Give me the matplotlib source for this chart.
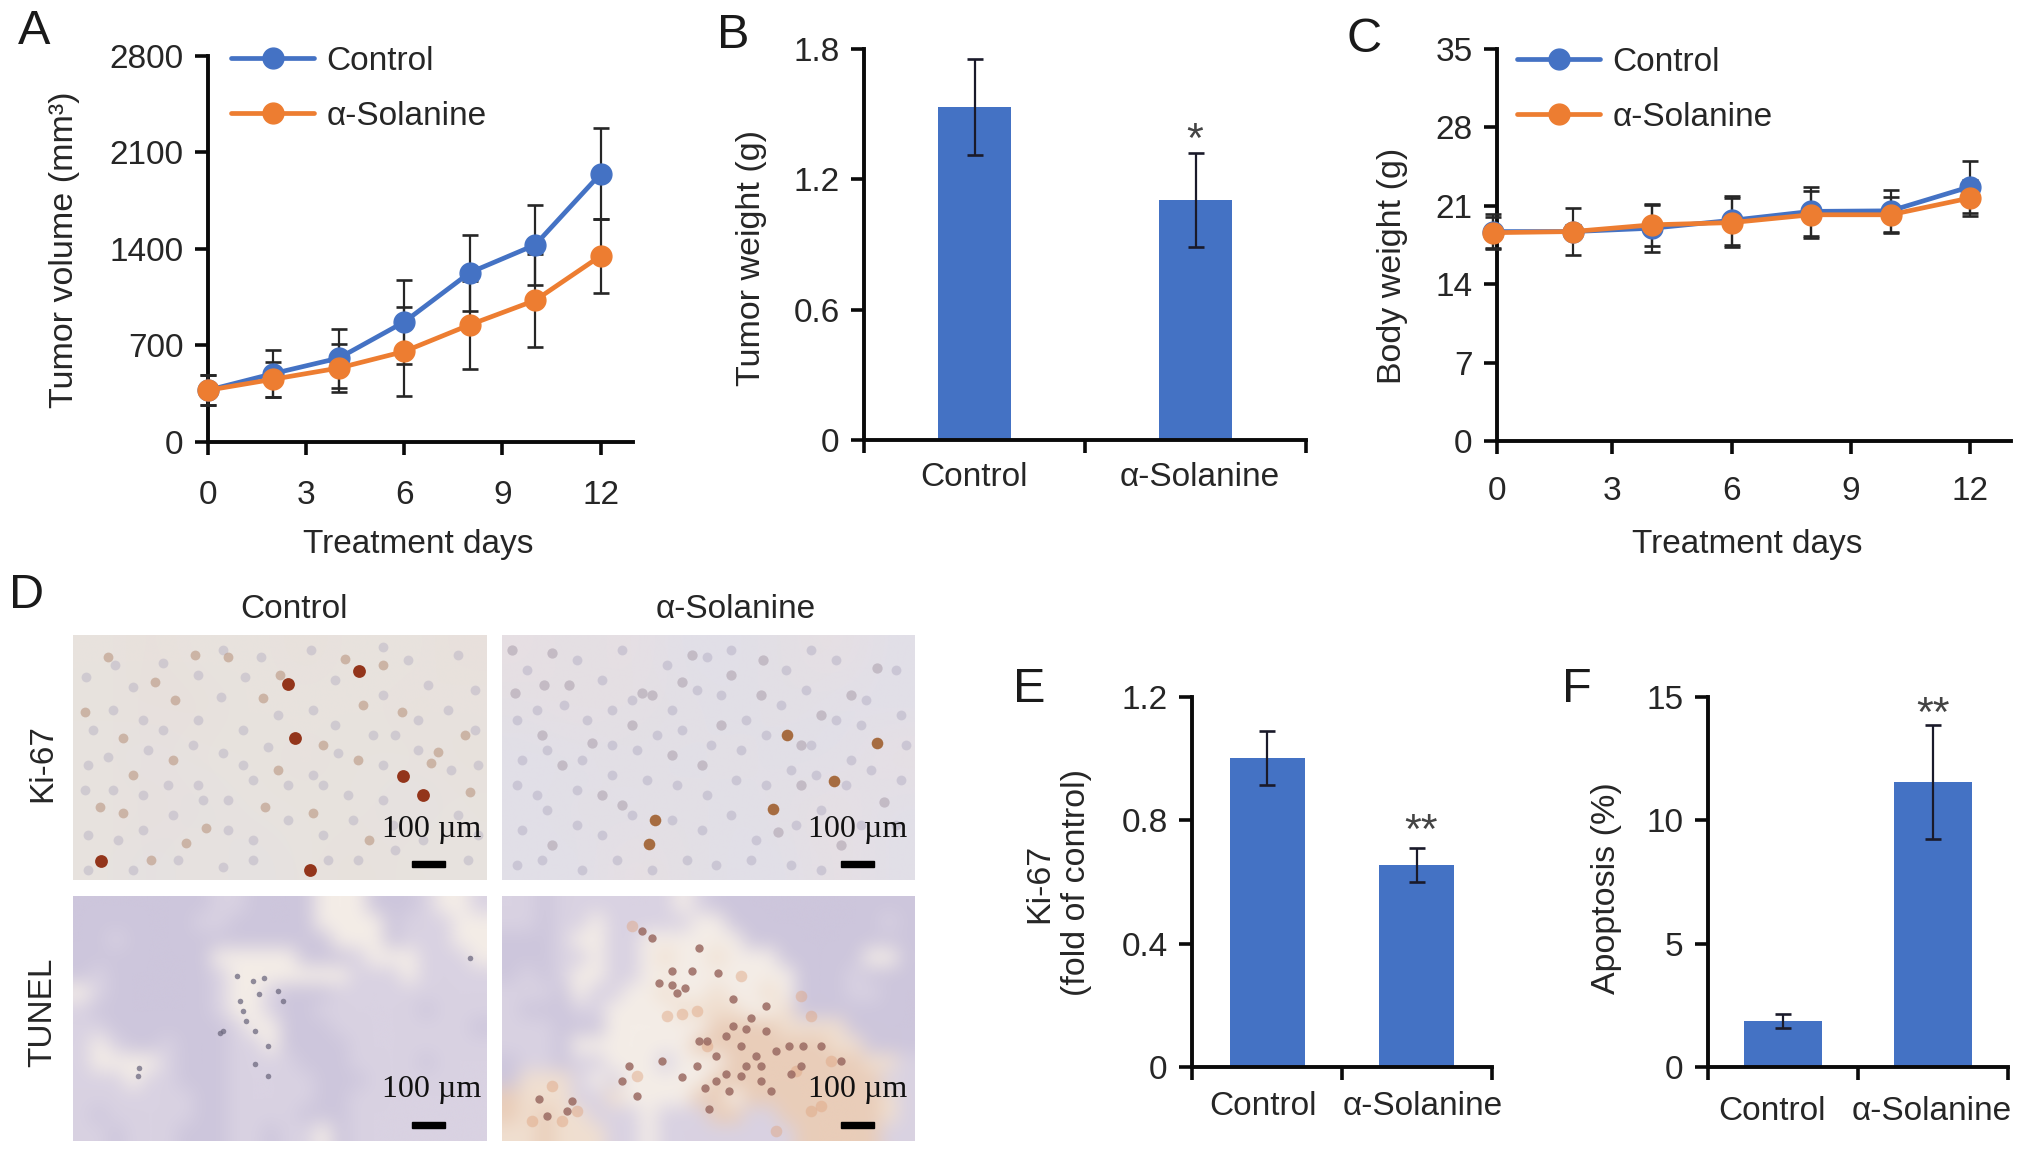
import numpy as np
import matplotlib
matplotlib.use("Agg")
import matplotlib.pyplot as plt
from matplotlib.colors import to_rgb

W, H = 2032, 1165
plt.rcParams['font.family'] = ['Liberation Sans', 'DejaVu Sans']
INK = '#262626'
BLUE, ORANGE, BAR = '#4472c4', '#ed7d31', '#4472c4'
plt.rcParams['text.color'] = INK

# ---------- data ----------
days = [0, 2, 4, 6, 8, 10, 12]
series = ['Control', 'α-Solanine']
tumor_ctrl = [375, 496, 608, 870, 1227, 1428, 1943]
tumor_ctrl_err = [107, 168, 214, 303, 275, 290, 330]
tumor_sol = [375, 455, 536, 656, 849, 1026, 1348]
tumor_sol_err = [107, 126, 174, 325, 320, 335, 270]
tumor_ticks = [0, 700, 1400, 2100, 2800]

weight_vals = [1.533, 1.105]
weight_err = [0.223, 0.215]
weight_ticks = [0, 0.6, 1.2, 1.8]

body_ctrl = [18.7, 18.7, 19.0, 19.7, 20.5, 20.55, 22.7]
body_ctrl_err = [1.6, 2.1, 2.1, 2.2, 2.2, 1.9, 2.3]
body_sol = [18.6, 18.7, 19.3, 19.5, 20.2, 20.2, 21.7]
body_sol_err = [1.4, 0.6, 1.9, 2.2, 2.1, 1.6, 1.6]
body_ticks = [0, 7, 14, 21, 28, 35]
day_ticks = [0, 3, 6, 9, 12]

ki67_vals = [1.002, 0.655]
ki67_err = [0.087, 0.055]
ki67_ticks = [0, 0.4, 0.8, 1.2]

apop_vals = [1.86, 11.54]
apop_err = [0.27, 2.31]
apop_ticks = [0, 5, 10, 15]

# ---------- micrograph sketches: coarse colour maps and the stained nuclei seen ----------
PAL_A = {'a': '#e8e3de', 'b': '#e8e0dc', 'c': '#e4e0e2'}
PAL_B = {'a': '#e3dfe4', 'b': '#e7dfe3', 'c': '#e1dfe8'}
PAL_T = {'p': '#cdc6dc', 'm': '#d9d2e2', 'w': '#f4ede7', 'o': '#f0dfd0', 'r': '#e9cdb9'}
map_ki_ctrl = ["abaabaab", "abbaaaba", "acaabaab", "abcaaaca", "acacabaa"]
map_ki_sol = ["babccabc", "abaacacc", "ccacaccb", "cacacabc", "ccbaccbc"]
map_tu_ctrl = ["ppppppppmmppppwwwpppmwwm", "pppppppmmpppppwwwwpmmmww", "ppmppppppppppppwwwpmmmww",
               "ppppppppwwwwwpppmwwwmmmw", "pmppppppmwwwwwwwmmmwmmmm", "wmppppppmwwmpppmmmmmmmmm",
               "mpppppppmwwmppmmmmmmpmmm", "mmpppppppmwwpppmmmmmmmmp", "mwmppmpppmmwppppmmmmmmmm",
               "mwwwwmpppmmmmpppmmmmpmmm", "mmmwmmpppmmmmmpppmmmmmmm", "mmmmmmmppmmmmmppmmmmmmmm",
               "mpmmmmmppmmmmpppmmmmmmmm", "mmpmmmpppmmpmmwpmmmmmmmm"]
map_tu_sol = ["mmpmmmmmmmwmpppppppppppp", "mmpmmwmmmmmwwpppppppppmp", "pppmwwmmwwwwwwpppppppppp",
              "pppmmwmmwowwowwwpppppwwp", "pmpmwwmmwwwwwwwwwpppmppp", "mmmpwmmwwowwowwowpppmmpp",
              "mpppmmwwwwoooowwoppppppp", "mmmpppwwwwwwrrrroooopppp", "mmmpwwwwwwwrrrrrrrrooppp",
              "pmmpmmwwwmwwwrrrrrrrroom", "pooomwmwwwwwrrrrrrrrrrmm", "rooommowwwwrrwrrrrrrrrom",
              "roroommmwmmmrrmmrrrrrrom", "oorooommwmmmmmmmmrrrrrmm"]

ki_ctrl_dark = [(215, 49), (286, 36), (222, 103), (330, 141), (350, 160), (28, 226), (237, 235)]
ki_ctrl_mid = [(272, 24), (207, 40), (50, 103), (100, 125), (102, 65), (190, 63), (12, 77), (82, 47),
               (290, 70), (329, 77), (358, 128), (397, 157), (285, 125), (192, 172), (113, 208),
               (78, 225), (27, 172), (50, 178), (296, 205), (35, 22), (155, 22), (122, 20), (392, 100),
               (365, 117), (250, 110), (133, 193), (205, 135), (60, 140), (240, 178), (310, 30)]
ki_ctrl_faint = [(13, 42), (42, 30), (60, 52), (90, 28), (125, 40), (150, 15), (172, 42), (188, 22),
                 (238, 15), (262, 45), (310, 12), (335, 25), (355, 50), (385, 20), (402, 55), (20, 95),
                 (40, 75), (70, 85), (90, 95), (125, 85), (148, 62), (170, 95), (205, 80), (240, 75),
                 (262, 90), (310, 60), (322, 100), (345, 85), (375, 75), (402, 95), (15, 130), (35, 122),
                 (75, 115), (120, 110), (150, 118), (170, 130), (195, 112), (240, 140), (265, 118),
                 (300, 100), (310, 130), (345, 115), (378, 135), (405, 130), (12, 155), (40, 155),
                 (70, 160), (95, 150), (125, 150), (155, 165), (180, 145), (215, 150), (250, 150),
                 (275, 160), (310, 165), (15, 200), (45, 205), (70, 195), (100, 180), (130, 165),
                 (155, 195), (180, 205), (215, 185), (250, 200), (280, 185), (320, 190), (350, 205),
                 (385, 180), (405, 200), (15, 235), (60, 235), (105, 225), (150, 232), (180, 225),
                 (255, 225), (285, 225), (322, 215), (395, 225)]
ki_sol_dark = [(147, 209), (272, 174), (286, 100), (376, 108), (333, 146), (153, 185)]
ki_sol_mid = [(10, 15), (50, 18), (42, 50), (13, 58), (150, 60), (67, 50), (140, 58), (180, 47),
              (376, 33), (262, 25), (383, 167), (277, 197), (90, 108), (60, 130), (200, 130),
              (320, 80), (130, 90), (260, 60), (190, 20), (350, 60), (230, 40), (100, 160),
              (300, 150), (220, 90), (40, 100), (120, 170), (50, 210), (340, 210), (300, 110), (170, 120)]
ki_sol_faint = [(25, 35), (75, 25), (100, 45), (120, 15), (165, 30), (205, 22), (230, 15), (285, 35),
                (310, 15), (335, 25), (365, 65), (395, 35), (15, 85), (35, 75), (62, 70), (85, 85),
                (110, 75), (130, 65), (170, 75), (195, 55), (220, 60), (245, 85), (280, 70), (305, 55),
                (335, 85), (360, 90), (400, 80), (20, 125), (45, 115), (80, 125), (110, 110), (135, 115),
                (155, 100), (180, 95), (210, 110), (240, 115), (265, 100), (310, 110), (350, 125),
                (405, 110), (15, 150), (35, 160), (75, 155), (110, 140), (145, 145), (175, 150),
                (205, 160), (235, 145), (265, 150), (290, 135), (315, 140), (345, 150), (370, 135),
                (400, 145), (20, 195), (45, 175), (75, 190), (100, 200), (130, 180), (170, 185),
                (200, 195), (230, 180), (255, 205), (295, 190), (320, 175), (360, 190), (395, 190),
                (15, 230), (40, 225), (80, 235), (115, 225), (150, 235), (185, 225), (215, 230),
                (250, 225), (290, 230), (320, 235)]
tu_ctrl_spots = [(164, 80), (180, 85), (191, 82), (186, 98), (167, 105), (170, 115), (173, 125),
                 (182, 135), (195, 150), (182, 168), (195, 180), (397, 62), (150, 135), (147, 137),
                 (65, 180), (66, 172), (205, 95), (210, 105)]
tu_sol_spots = [(157, 87), (170, 89), (183, 92), (175, 97), (197, 52), (170, 75), (190, 75),
                (217, 77), (232, 103), (265, 110), (232, 130), (245, 133), (265, 135), (197, 145),
                (205, 145), (215, 160), (255, 160), (288, 150), (302, 150), (260, 170), (240, 180),
                (160, 165), (127, 170), (203, 192), (180, 181), (228, 195), (290, 178), (320, 150),
                (37, 203), (65, 215), (207, 213), (270, 195), (250, 122), (150, 42), (140, 35),
                (225, 140), (240, 150), (275, 155), (245, 170), (225, 178), (260, 185), (300, 170),
                (195, 170), (215, 185), (340, 165), (70, 205), (45, 220), (120, 185), (135, 200)]
tu_sol_orange = [(165, 120), (180, 118), (195, 115), (310, 120), (295, 175), (330, 165), (60, 225),
                 (75, 215), (30, 225), (50, 190), (135, 180), (310, 215), (275, 235), (320, 210),
                 (130, 30), (205, 150), (240, 80), (300, 100)]


# ---------- helpers ----------
def box(x0, y0, x1, y1):
    """pixel box (y downward) -> figure fraction rectangle"""
    return [x0 / W, 1 - y1 / H, (x1 - x0) / W, (y1 - y0) / H]


fig = plt.figure(figsize=(W / 100, H / 100), dpi=100, facecolor='white')


def T(x, y, s, size=24, **kw):
    kw.setdefault('ha', 'center')
    kw.setdefault('va', 'center')
    return fig.text(x / W, 1 - y / H, s, fontsize=size, **kw)


def style(ax, xpad, tick_len=9.5):
    for s in ('top', 'right'):
        ax.spines[s].set_visible(False)
    for s in ('left', 'bottom'):
        ax.spines[s].set_linewidth(2.8)
        ax.spines[s].set_color('#0a0a0a')
        ax.spines[s].set_capstyle('projecting')
    ax.tick_params(axis='y', length=tick_len, width=2.6, pad=8, labelsize=24, color='#0a0a0a', labelcolor=INK)
    ax.tick_params(axis='x', length=tick_len, width=2.6, pad=xpad, labelsize=24, color='#0a0a0a', labelcolor=INK)
    ax.patch.set_alpha(0)


def fmt(v):
    return '0' if v == 0 else (f'{v:g}' if float(v).is_integer() else f'{v:.1f}')


def line_panel(rect, xlim, ylim, yticks, xtick_pos, xpad, c, ce, s, se, ylab, ylx, yly, ylsize, xlx, legend_xy):
    ax = fig.add_axes(box(*rect))
    style(ax, xpad)
    ax.set_xlim(*xlim)
    ax.set_ylim(*ylim)
    ax.set_yticks(yticks, [fmt(v) for v in yticks])
    ax.set_xticks(xtick_pos, [str(d) for d in day_ticks])
    ek = dict(ecolor=INK, elinewidth=1.6, capsize=6, capthick=1.9, fmt='none', clip_on=False, zorder=3)
    ax.errorbar(days, c, yerr=ce, **ek)
    ax.errorbar(days, s, yerr=se, **ek)
    lk = dict(lw=3.4, marker='o', ms=15, clip_on=False, zorder=4, solid_capstyle='round')
    ax.plot(days, c, color=BLUE, label=series[0], **lk)
    ax.plot(days, s, color=ORANGE, label=series[1], **lk)
    leg = ax.legend(loc='center left', bbox_to_anchor=(legend_xy[0] / W, 1 - legend_xy[1] / H),
                    bbox_transform=fig.transFigure, frameon=False, fontsize=24, borderpad=0,
                    borderaxespad=0, handlelength=2.5, handletextpad=0.36, labelspacing=0.72, numpoints=1)
    for t in leg.get_texts():
        t.set_color(INK)
    T(ylx, yly, ylab, size=ylsize, rotation=90)
    T(xlx, 544, 'Treatment days')
    return ax


def bar_panel(rect, vals, err, ylim, yticks, width, label_pos, xpad, ylab, ylx, yly, ylsize, stars, star_xy, star_size=31):
    ax = fig.add_axes(box(*rect))
    style(ax, xpad)
    ax.set_xlim(0, 2)
    ax.set_ylim(*ylim)
    ax.set_yticks(yticks, [fmt(v) for v in yticks])
    ax.set_xticks([0, 1, 2], ['', '', ''])
    ax.set_xticks(label_pos, series, minor=True)
    ax.tick_params(axis='x', which='minor', length=0, pad=xpad + 12, labelsize=24, labelcolor=INK)
    ax.bar([0.5, 1.5], vals, width=width, color=BAR, zorder=2)
    ax.errorbar([0.5, 1.5], vals, yerr=err, fmt='none', ecolor='#1a1a2a', elinewidth=1.6, capsize=6,
                capthick=1.9, zorder=3, clip_on=False)
    T(ylx, yly, ylab, size=ylsize, rotation=90, linespacing=1.25, multialignment='center')
    T(star_xy[0], star_xy[1], stars, size=star_size, color='#444444')
    return ax


def micro(rect, rows, pal, layers):
    ax = fig.add_axes(box(*rect))
    grid = np.array([[to_rgb(pal[ch]) for ch in r] for r in rows])
    ax.imshow(grid, extent=(0, 414, 245, 0), aspect='auto', interpolation='bicubic', zorder=1)
    for pts, col, sz, al in layers:
        arr = np.array(pts)
        ax.scatter(arr[:, 0], arr[:, 1], s=sz, color=col, alpha=al, linewidths=0, zorder=2)
    ax.set_xlim(0, 414)
    ax.set_ylim(245, 0)
    ax.axis('off')
    return ax


# ---------- panels ----------
line_panel((208, 55.5, 633, 442), (0, 12 * (633 - 208) / (600.6 - 208)), (0, 2800), tumor_ticks, day_ticks, 18,
           tumor_ctrl, tumor_ctrl_err, tumor_sol, tumor_sol_err, 'Tumor volume (mm³)', 65, 250, 24.5, 418, (231, 89))

line_panel((1497, 49, 2011, 441), (0.1, 12 + (2011 - 1970) / 39.75), (0, 35), body_ticks,
           [0.1, 3, 6, 9, 12], 16, body_ctrl, body_ctrl_err, body_sol, body_sol_err,
           'Body weight (g)', 1393, 266, 24.5, 1747, (1517, 90))

bar_panel((864, 49, 1306, 440), weight_vals, weight_err, (0, 1.8), weight_ticks, 0.33, [0.5, 1.52], 4,
          'Tumor weight (g)', 751.5, 258, 24.5, '*', (1195, 141))
bar_panel((1192, 697, 1492, 1067), ki67_vals, ki67_err, (0, 1.2), ki67_ticks, 0.5, [0.475, 1.54], 5,
          'Ki-67\n(fold of control)', 1058, 883, 24.5, '**', (1421, 832))
bar_panel((1708, 697, 2008, 1067), apop_vals, apop_err, (0, 15), apop_ticks, 0.52, [0.43, 1.49], 9,
          'Apoptosis (%)', 1606, 888, 24.5, '**', (1933, 715))

# ---------- micrographs ----------
micro((73, 635, 487, 880), map_ki_ctrl, PAL_A,
      [(ki_ctrl_faint, '#b9b3c4', 50, 0.5), (ki_ctrl_mid, '#bd9c88', 50, 0.65), (ki_ctrl_dark, '#8f2c10', 85, 0.95)])
micro((502, 635, 915, 880), map_ki_sol, PAL_B,
      [(ki_sol_faint, '#b4afc4', 50, 0.5), (ki_sol_mid, '#b3a8b4', 55, 0.65), (ki_sol_dark, '#a0602f', 70, 0.9)])
micro((73, 896, 487, 1141), map_tu_ctrl, PAL_T, [(tu_ctrl_spots, '#6e6a80', 16, 0.75)])
micro((502, 896, 915, 1141), map_tu_sol, PAL_T,
      [(tu_sol_orange, '#dfa37f', 70, 0.45), (tu_sol_spots, '#9a6a62', 36, 0.85)])

for cx, cy in [(432, 829), (858, 829), (432, 1089), (858, 1089)]:
    T(cx, cy, '100 µm', size=23, family='Liberation Serif', color='#111111', zorder=10)
for bx0, by in [(412, 864), (841, 864), (412, 1125), (841, 1125)]:
    fig.add_artist(plt.Rectangle((bx0 / W, 1 - (by + 3) / H), 33 / W, 6 / H, color='black',
                                 transform=fig.transFigure, zorder=10))

T(294, 610, series[0])
T(736, 610, series[1])
T(43, 763, 'Ki-67', rotation=90)
T(43, 1012, 'TUNEL', rotation=90)

for s, x, y in [('A', 34, 31), ('B', 733, 35), ('C', 1364, 39), ('D', 27, 596), ('E', 1029, 690), ('F', 1577, 689)]:
    T(x, y, s, size=35, color='#1a1a1a')

fig.savefig('out.png', dpi=100, facecolor='white')
